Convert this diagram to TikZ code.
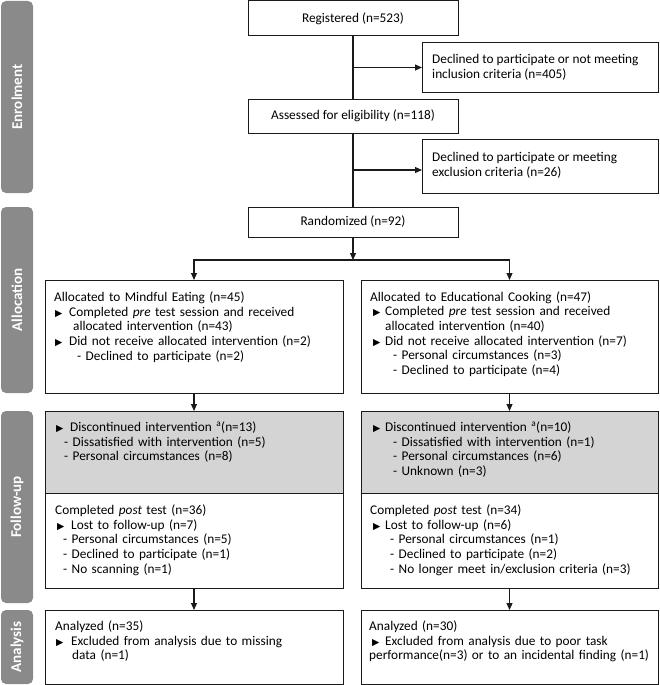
\documentclass[tikz,border=0pt]{standalone}
\usepackage{fontspec}
\setmainfont{Carlito}
\newfontfamily\symf{DejaVu Sans}
\usetikzlibrary{arrows.meta,calc}
\definecolor{bargray}{HTML}{8A8A8A}
\definecolor{fugray}{HTML}{D4D4D4}
\definecolor{edge}{HTML}{1A1A1A}
\newcommand{\tri}{{\symf\fontsize{9.5}{8}\selectfont ▶}}
\newcommand{\bu}[2]{\hspace*{#1}\makebox[#2][l]{\tri}}
\begin{document}
\begin{tikzpicture}[x=1pt,y=-1pt,
  box/.style={draw=edge, line width=1pt, inner sep=0pt, outer sep=0pt},
  cbox/.style={box, align=center, font=\fontsize{13.3}{14.7}\selectfont},
  dtxt/.style={anchor=west, inner sep=0pt, align=left, font=\fontsize{13.3}{14.7}\selectfont},
  txt/.style={anchor=base west, inner sep=0pt, text width=292pt, align=left, font=\fontsize{13.3}{14.7}\selectfont},
  bar/.style={fill=bargray, rounded corners=5pt, inner sep=0pt, rotate=90, text=white, font=\bfseries\fontsize{15}{16}\selectfont},
  conn/.style={draw=edge, line width=1.1pt},
  arr/.style={conn, -{Triangle[length=7pt,width=6pt]}}]
\useasboundingbox (0,0) rectangle (659,685);

% side bars
\node[bar, minimum width=192pt, minimum height=32pt] (benr) at (17,97) {Enrolment};
\node[bar, minimum width=186pt, minimum height=32pt] (ball) at (17,300) {Allocation};
\node[bar, minimum width=192pt, minimum height=32pt] (bfu) at (17,507) {Follow-up};
\node[bar, minimum width=74pt, minimum height=32pt] (ban) at (17,647) {Analysis};

% top boxes
\node[cbox, minimum width=210pt, minimum height=35pt] (reg) at (353,18.5) {Registered (n=523)};
\node[box, minimum width=236pt, minimum height=49pt] (dec1) at (540,67.5) {};
\node[dtxt] (tdec1) at (432,67) {Declined to participate or not meeting\\inclusion criteria (n=405)};
\node[cbox, minimum width=210pt, minimum height=34pt] (ass) at (353,116) {Assessed for eligibility (n=118)};
\node[box, minimum width=236pt, minimum height=54pt] (dec2) at (540,166) {};
\node[dtxt] (tdec2) at (432,165) {Declined to participate or meeting\\exclusion criteria (n=26)};
\node[cbox, minimum width=210pt, minimum height=30pt] (rand) at (353,222) {Randomized (n=92)};

% allocation
\node[box, minimum width=298pt, minimum height=113pt] (allocL) at (194,336.5) {};
\node[box, minimum width=297pt, minimum height=113pt] (allocR) at (509.5,336.5) {};
% follow-up
\node[box, fill=fugray, minimum width=298pt, minimum height=82pt] (fuLt) at (194,452) {};
\node[box, minimum width=298pt, minimum height=95pt] (fuLb) at (194,540.5) {};
\node[box, fill=fugray, minimum width=297pt, minimum height=82pt] (fuRt) at (509.5,452) {};
\node[box, minimum width=297pt, minimum height=95pt] (fuRb) at (509.5,540.5) {};
% analysis
\node[box, minimum width=298pt, minimum height=74pt] (anL) at (194,647) {};
\node[box, minimum width=297pt, minimum height=74pt] (anR) at (509.5,647) {};

% texts
\node[txt] (tAL) at (54,301.5) {Allocated to Mindful Eating (n=45)\\
\bu{1pt}{14pt}Completed \textit{pre} test session and received\\
\hspace*{19pt}allocated intervention (n=43)\\
\bu{1pt}{14pt}Did not receive allocated intervention (n=2)\\
\hspace*{23pt}- Declined to participate (n=2)};
\node[txt] (tAR) at (370,301) {Allocated to Educational Cooking (n=47)\\
\bu{3pt}{12pt}Completed \textit{pre} test session and received\\
\hspace*{15pt}allocated intervention (n=40)\\
\bu{3pt}{12pt}Did not receive allocated intervention (n=7)\\
\hspace*{23pt}- Personal circumstances (n=3)\\
\hspace*{23pt}- Declined to participate (n=4)};

\node[txt] (tFLt) at (54,431.5) {\bu{2pt}{14pt}Discontinued intervention \textsuperscript{a}(n=13)\\
\hspace*{10pt}- Dissatisfied with intervention (n=5)\\
\hspace*{10pt}- Personal circumstances (n=8)};
\node[txt] (tFLb) at (55,514.5) {Completed \textit{post} test (n=36)\\
\bu{2pt}{14pt}Lost to follow-up (n=7)\\
\hspace*{8pt}- Personal circumstances (n=5)\\
\hspace*{8pt}- Declined to participate (n=1)\\
\hspace*{8pt}- No scanning (n=1)};
\node[txt] (tFRt) at (370,431.5) {\bu{3pt}{12pt}Discontinued intervention \textsuperscript{a}(n=10)\\
\hspace*{23pt}- Dissatisfied with intervention (n=1)\\
\hspace*{23pt}- Personal circumstances (n=6)\\
\hspace*{23pt}- Unknown (n=3)};
\node[txt] (tFRb) at (370,514.5) {Completed \textit{post} test (n=34)\\
\bu{3pt}{12pt}Lost to follow-up (n=6)\\
\hspace*{20pt}- Personal circumstances (n=1)\\
\hspace*{20pt}- Declined to participate (n=2)\\
\hspace*{20pt}- No longer meet in/exclusion criteria (n=3)};

\node[txt] (tANL) at (55,630.5) {Analyzed (n=35)\\
\bu{1pt}{15pt}Excluded from analysis due to missing\\
\hspace*{17pt}data (n=1)};
\node[txt] (tANR) at (369,630.5) {Analyzed (n=30)\\
\bu{3pt}{13pt}Excluded from analysis due to poor task\\
performance(n=3) or to an incidental finding (n=1)};

% connectors
\coordinate (m1) at ($(reg.south)!0.5!(ass.north)$);
\coordinate (m2) at ($(ass.south)!0.5!(rand.north)$);
\draw[conn] (reg.south) -- (ass.north);
\draw[arr] (m1) -- (m1 -| dec1.west);
\draw[conn] (ass.south) -- (rand.north);
\draw[arr] (m2) -- (m2 -| dec2.west);
\coordinate (split) at (353,260);
\draw[arr] (rand.south) -- (split);
\draw[arr] (split) -| (allocL.north);
\draw[arr] (split) -| (allocR.north);
\draw[arr] (allocL.south) -- (fuLt.north);
\draw[arr] (allocR.south) -- (fuRt.north);
\draw[arr] (fuLb.south) -- (anL.north);
\draw[arr] (fuRb.south) -- (anR.north);
\end{tikzpicture}
\end{document}
